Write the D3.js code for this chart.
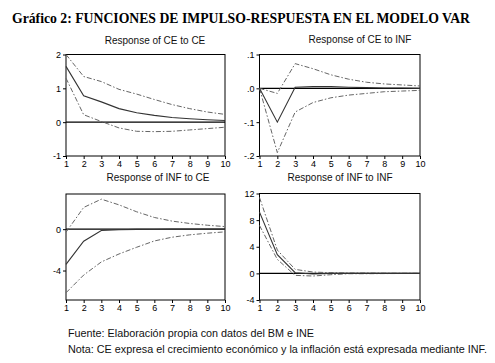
<!DOCTYPE html>
<html><head><meta charset="utf-8">
<script src="https://cdn.jsdelivr.net/npm/d3@7"></script>
<style>body{margin:0;background:#fff}svg{display:block}</style>
</head><body>
<script>
const periods = [1,2,3,4,5,6,7,8,9,10];

const ceToCE     = [1.65, 0.78, 0.60, 0.40, 0.28, 0.20, 0.14, 0.10, 0.07, 0.05];
const ceToCE_up  = [2.00, 1.35, 1.20, 0.97, 0.83, 0.67, 0.52, 0.40, 0.30, 0.23];
const ceToCE_lo  = [1.30, 0.22, 0.02, -0.17, -0.27, -0.28, -0.27, -0.23, -0.19, -0.15];

const ceToINF    = [0.000, -0.100, 0.003, 0.005, 0.005, 0.003, 0.002, 0.001, 0.001, 0.000];
const ceToINF_up = [0.000, -0.015, 0.073, 0.058, 0.040, 0.027, 0.018, 0.013, 0.010, 0.007];
const ceToINF_lo = [0.000, -0.190, -0.070, -0.042, -0.028, -0.020, -0.015, -0.010, -0.008, -0.006];

const infToCE    = [-3.40, -1.17, -0.13, -0.05, -0.02, -0.01, 0.00, 0.00, 0.00, 0.00];
const infToCE_up = [-0.30, 2.10, 2.90, 2.35, 1.68, 1.13, 0.78, 0.55, 0.38, 0.25];
const infToCE_lo = [-6.15, -4.44, -3.17, -2.40, -1.75, -1.14, -0.78, -0.55, -0.39, -0.26];

const infToINF    = [9.20, 2.80, 0.10, -0.10, 0.00, 0.00, 0.00, 0.00, 0.00, 0.00];
const infToINF_up = [11.40, 3.50, 0.60, 0.20, 0.10, 0.05, 0.05, 0.03, 0.02, 0.02];
const infToINF_lo = [7.20, 2.10, -0.30, -0.40, -0.20, -0.05, -0.05, -0.03, -0.02, -0.02];

const titles = ["Response of CE to CE","Response of CE to INF","Response of INF to CE","Response of INF to INF"];
const yTicks1 = [-1, 0, 1, 2],        yLabels1 = ["-1","0","1","2"];
const yTicks2 = [-0.2,-0.1,0,0.1],    yLabels2 = ["-.2","-.1",".0",".1"];
const yTicks3 = [-4, 0],              yLabels3 = ["-4","0"];
const yTicks4 = [-4,0,4,8,12],        yLabels4 = ["-4","0","4","8","12"];
const mainTitle = "Gráfico 2: FUNCIONES DE IMPULSO-RESPUESTA EN EL MODELO VAR";
const note1 = "Fuente: Elaboración propia con datos del BM e INE";
const note2 = "Nota: CE expresa el crecimiento económico y la inflación está expresada mediante INF.";

const W = 495, H = 363;
const svg = d3.select("body").append("svg").attr("width", W).attr("height", H);

svg.append("text").attr("x", 12).attr("y", 23)
  .attr("font-family", "'Liberation Serif', 'Times New Roman', serif")
  .attr("font-weight", "bold").attr("font-size", 14.5).attr("fill", "#000")
  .attr("textLength", 458).attr("lengthAdjust", "spacingAndGlyphs")
  .text(mainTitle);

const panels = [
  {mid: ceToCE, up: ceToCE_up, lo: ceToCE_lo, dom: [-1, 2], ticks: yTicks1, labels: yLabels1,
   x0: 66, x1: 225, y0: 54.5, y1: 156, tx: 155, ty: 44, title: titles[0]},
  {mid: ceToINF, up: ceToINF_up, lo: ceToINF_lo, dom: [-0.2, 0.1], ticks: yTicks2, labels: yLabels2,
   x0: 259.5, x1: 420, y0: 54.5, y1: 156, tx: 360, ty: 43, title: titles[1]},
  {mid: infToCE, up: infToCE_up, lo: infToCE_lo, dom: [-6.85, 3.4], ticks: yTicks3, labels: yLabels3,
   x0: 66, x1: 225, y0: 194, y1: 300, tx: 158, ty: 181, title: titles[2]},
  {mid: infToINF, up: infToINF_up, lo: infToINF_lo, dom: [-4, 12], ticks: yTicks4, labels: yLabels4,
   x0: 259.5, x1: 420, y0: 193.5, y1: 300, tx: 340, ty: 181, title: titles[3]}
];

const sans = "'Liberation Sans', Arial, sans-serif";

panels.forEach(p => {
  const x = d3.scaleLinear().domain([1, 10]).range([p.x0, p.x1]);
  const y = d3.scaleLinear().domain(p.dom).range([p.y1, p.y0]);
  const g = svg.append("g");

  g.append("text").attr("x", p.tx).attr("y", p.ty).attr("text-anchor", "middle")
    .attr("font-family", sans).attr("font-size", 10).attr("fill", "#111").text(p.title);

  g.append("rect").attr("x", p.x0).attr("y", p.y0).attr("width", p.x1 - p.x0).attr("height", p.y1 - p.y0)
    .attr("fill", "none").attr("stroke", "#000").attr("stroke-width", 1);

  const ya = d3.axisLeft(y).tickValues(p.ticks).tickFormat((d, i) => p.labels[i]).tickSize(3).tickSizeOuter(0);
  const ga = g.append("g").attr("transform", `translate(${p.x0},0)`).call(ya);
  ga.select(".domain").remove();
  ga.selectAll("text").attr("font-family", sans).attr("font-size", 9).attr("fill", "#000").attr("dx", "1");

  const xa = d3.axisBottom(x).tickValues(periods).tickFormat(d3.format("d")).tickSize(3).tickSizeOuter(0);
  const gx = g.append("g").attr("transform", `translate(0,${p.y1})`).call(xa);
  gx.select(".domain").remove();
  gx.selectAll("text").attr("font-family", sans).attr("font-size", 9).attr("fill", "#000").attr("dy", "0.5em");

  g.append("line").attr("x1", p.x0).attr("x2", p.x1).attr("y1", y(0)).attr("y2", y(0))
    .attr("stroke", "#000").attr("stroke-width", 1.1);

  const line = d3.line().x((d, i) => x(periods[i])).y(d => y(d));
  [p.up, p.lo].forEach(s => {
    g.append("path").attr("d", line(s)).attr("fill", "none").attr("stroke", "#666")
      .attr("stroke-width", 1).attr("stroke-dasharray", "5,2,1.5,2");
  });
  g.append("path").attr("d", line(p.mid)).attr("fill", "none").attr("stroke", "#333")
    .attr("stroke-width", 1.1);
});

svg.append("text").attr("x", 68).attr("y", 337).attr("font-family", sans).attr("font-size", 10.8)
  .attr("fill", "#111").text(note1);
svg.append("text").attr("x", 68).attr("y", 353).attr("font-family", sans).attr("font-size", 10.8)
  .attr("fill", "#111").text(note2);
</script>
</body></html>
